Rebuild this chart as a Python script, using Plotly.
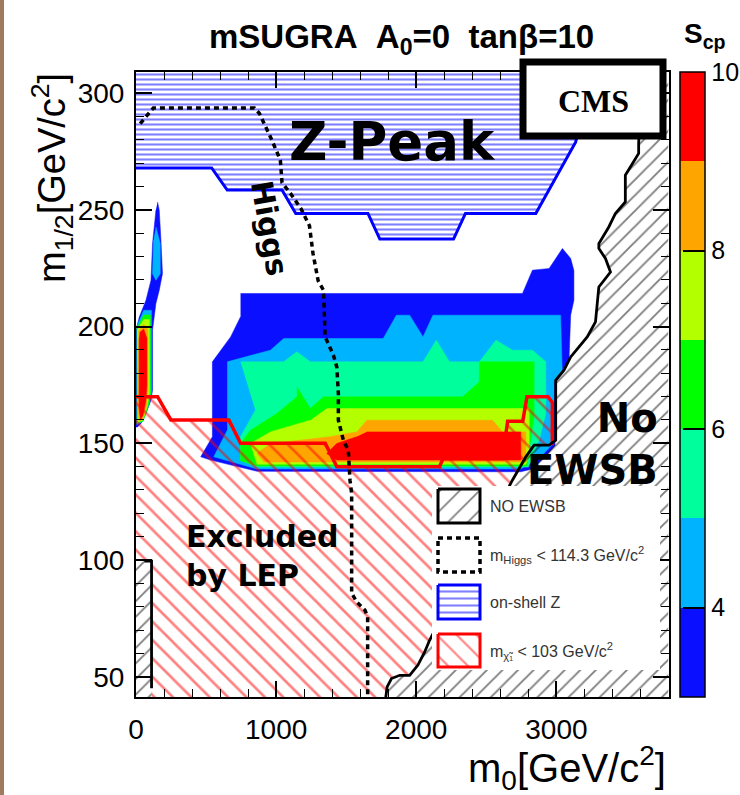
import plotly.graph_objects as go

W, H = 740, 795

# ---------------- S_cp bands, main region (m0, m1/2 in GeV/c^2) ----------------
scp3_m0 = [746, 2758, 2829, 2948, 3043, 3102, 3125, 3125, 3102, 3090, 3050, 2990, 2990, 2930, 2830, 2746, 864, 533, 462, 545, 545, 675, 746]
scp3_m12 = [214.2, 214.2, 224.2, 224.9, 233.5, 229.2, 224, 211.3, 205, 185.6, 182, 176.5, 149, 145, 139, 137.8, 138, 142.8, 144.2, 152.8, 184.9, 195.6, 204.2]
scp4_m0 = [651, 959, 1054, 1764, 1858, 1953, 2048, 2119, 3030, 3042, 2985, 2980, 2900, 2746, 864, 555, 651]
scp4_m12 = [184.9, 189.9, 194.9, 194.9, 204.9, 204.9, 195.6, 204.9, 204.9, 180, 176, 150, 145, 139, 139, 144.2, 155.6]
scp5_m0 = [746, 1054, 1148, 1243, 2048, 2143, 2237, 2450, 2569, 2687, 2829, 2924, 2924, 2880, 2800, 864, 746, 746, 852]
scp5_m12 = [184.9, 184.9, 189.2, 184.9, 184.9, 194.2, 184.9, 184.9, 194.2, 189.9, 189.9, 184.9, 162.8, 152, 139.8, 139.8, 142.8, 152.8, 164.2]
scp6_m0 = [1148, 1243, 1338, 2332, 2450, 2450, 2841, 2841, 2790, 864, 746, 746, 817, 1006, 1148]
scp6_m12 = [174.2, 164.9, 169.9, 169.9, 176.3, 184.9, 184.9, 162, 140.3, 140.3, 142.5, 149.9, 155.6, 162.8, 169.9]
scp7_m0 = [1361, 2806, 2806, 2782, 864, 817, 958, 1077, 1243]
scp7_m12 = [164.9, 164.9, 145, 141, 141, 149.9, 154.9, 157, 159.9]
scp8_m0 = [1645, 2545, 2616, 2782, 2782, 912, 864, 958, 1385, 1574]
scp8_m12 = [159.9, 159.9, 154.9, 154.9, 142, 142, 145.6, 149.9, 152.8, 154.9]
scp9_m0 = [1645, 2746, 2746, 1432, 1361, 1432, 1574]
scp9_m12 = [154.9, 154.9, 142.8, 142.8, 145.6, 149.9, 152.8]

# ---------------- S_cp bands, narrow strip at small m0 ----------------
strip3_m0 = [154, 166, 178, 189, 166, 142, 130, 118, 118, 107, 71, 36, 10, 0, 0, 24, 71, 107, 118, 142]
strip3_m12 = [253.4, 249.9, 237, 222.7, 215.6, 209.9, 204.2, 198.5, 172.8, 168.5, 162.8, 158.5, 157, 157, 198.5, 204.2, 211.3, 219.9, 235.6, 249.9]
strip4a_m0 = [142, 173, 173, 142, 118, 125]
strip4a_m12 = [242.7, 235.6, 222.7, 219.9, 222.7, 237]
strip4b_m0 = [5, 55, 110, 112, 95, 50, 5]
strip4b_m12 = [200, 207, 207, 172, 167, 159.5, 158]
strip6_m0 = [5, 55, 104, 105, 88, 50, 5]
strip6_m12 = [199, 205, 205, 172, 166, 159.5, 158.5]
strip7_m0 = [8, 55, 95, 97, 80, 50, 12]
strip7_m12 = [198.5, 203, 203, 172, 166, 160, 159]
strip8_m0 = [18, 55, 85, 86, 75, 50, 25, 15]
strip8_m12 = [198, 201, 199, 173, 166, 160.5, 159.5, 164]
strip9_m0 = [26, 55, 78, 78, 70, 50, 32, 22, 22]
strip9_m12 = [197.5, 199, 195, 175, 168, 162, 160, 165, 195]

band_colors = ["#0a10ff", "#00b3ff", "#00ff9c", "#00ff00", "#b3ff00", "#ffa500", "#ff0000"]
scp_levels = [3, 4, 5, 6, 7, 8, 9, 10]

# ---------------- excluded / special regions ----------------
zpk_m0 = [0, 0, 540, 651, 1042, 1140, 1655, 1740, 2266, 2351, 2853, 3137, 3250, 3250]
zpk_m12 = [312, 268, 268, 258.5, 258.5, 248.5, 248.5, 237.5, 237.5, 248.5, 248.5, 279, 305, 312]

lep_m0 = [111, 111, 0, 0, 154, 249, 663, 746, 1350, 1433, 2166, 2190, 2616, 2652, 2760, 2790, 2940, 2971, 2971,
          2841, 2782, 2686, 2095, 2060, 2012, 1953, 1882, 1823, 1792, 1780]
lep_m12 = [40, 99.5, 99.5, 170, 170, 160, 160, 150, 150, 140, 140, 143.4, 143.4, 159.5, 159.5, 170, 170, 167.5, 149.2,
           149.2, 144.2, 134.2, 65.6, 60.6, 55, 50.6, 50.6, 49.2, 45.6, 40]

ewsb_m0 = [1780, 1792, 1823, 1882, 1953, 2012, 2060, 2095, 2686, 2782, 2841, 2948, 2995, 2995, 3054, 3102, 3220,
           3279, 3303, 3386, 3350, 3303, 3303, 3374, 3421, 3492, 3492, 3551, 3587, 3587, 3610, 3800, 3800]
ewsb_m12 = [40, 45.6, 49.2, 50.6, 50.6, 55, 60.6, 65.6, 134.2, 144.2, 149.2, 149.2, 151.3, 177, 181.3, 187, 195.6,
            202, 217, 223.4, 229.2, 233.5, 235.6, 242.7, 248.5, 253.4, 264.9, 270.6, 274.2, 278.4, 312, 312, 40]

ewsb_low_m0 = [0, 111, 111, 0]
ewsb_low_m12 = [40, 40, 99.5, 99.5]

higgs_m0 = [30, 124, 845, 881, 969, 1030, 1042, 1103, 1177, 1238, 1263, 1300, 1338, 1350, 1409, 1433, 1444, 1444,
            1480, 1515, 1527, 1539, 1539, 1575, 1634, 1653, 1653]
higgs_m12 = [287, 293.7, 293.7, 291.3, 280, 271.3, 261.7, 257, 250.6, 243.2, 231.4, 219.6, 215.6, 195.6, 187.7,
             182.7, 171.3, 159.9, 151.3, 147, 134.2, 128.5, 85.8, 82, 78.5, 75.7, 40]

x_ticks = [0, 1000, 2000, 3000]
y_ticks = [50, 100, 150, 200, 250, 300]

legend_labels = ["NO EWSB", "m<sub>Higgs</sub> < 114.3 GeV/c<sup>2</sup>", "on-shell Z",
                 "m<sub>χ̃₁</sub> < 103 GeV/c<sup>2</sup>"]

fig = go.Figure()
NOFILL = "rgba(0,0,0,0)"


def solid(xs, ys, color):
    fig.add_trace(go.Scatter(x=xs, y=ys, mode="lines", fill="toself", fillcolor=color,
                             line=dict(width=0.5, color=color), hoverinfo="skip", showlegend=False))


def hatched(xs, ys, shape, size, color, solidity, **kw):
    fig.add_trace(go.Scatter(x=xs, y=ys, mode="none", fill="toself", fillcolor=NOFILL,
                             fillpattern=dict(shape=shape, size=size, solidity=solidity, fgcolor=color,
                                              bgcolor=NOFILL),
                             hoverinfo="skip", showlegend=False, **kw))


def outline(xs, ys, color, width, dash="solid", **kw):
    fig.add_trace(go.Scatter(x=xs, y=ys, mode="lines", line=dict(color=color, width=width, dash=dash),
                             hoverinfo="skip", showlegend=False, **kw))


# contour bands, outer to inner
main_bands = [(scp3_m0, scp3_m12), (scp4_m0, scp4_m12), (scp5_m0, scp5_m12), (scp6_m0, scp6_m12),
              (scp7_m0, scp7_m12), (scp8_m0, scp8_m12), (scp9_m0, scp9_m12)]
for (xs, ys), c in zip(main_bands, band_colors):
    solid(xs, ys, c)

strip_bands = [(strip3_m0, strip3_m12, 0), (strip4a_m0, strip4a_m12, 1), (strip4b_m0, strip4b_m12, 1),
               (strip6_m0, strip6_m12, 3), (strip7_m0, strip7_m12, 4), (strip8_m0, strip8_m12, 5),
               (strip9_m0, strip9_m12, 6)]
for xs, ys, k in strip_bands:
    solid(xs, ys, band_colors[k])

# on-shell Z region
hatched(zpk_m0, zpk_m12, "-", 5, "#0000ff", 0.42)
outline(zpk_m0[1:13], zpk_m12[1:13], "#0000ff", 3)

# LEP chargino exclusion
hatched(lep_m0, lep_m12, "\\", 13, "#ff0000", 0.2)
outline(lep_m0[3:19], lep_m12[3:19], "#ff0000", 3.5)

# no electroweak symmetry breaking
hatched(ewsb_m0, ewsb_m12, "/", 11, "#000000", 0.17)
outline(ewsb_m0[0:31], ewsb_m12[0:31], "#000000", 2.8)
hatched(ewsb_low_m0, ewsb_low_m12, "/", 11, "#000000", 0.17)
outline([ewsb_low_m0[1], ewsb_low_m0[2], 60], [45, ewsb_low_m12[2], ewsb_low_m12[2]], "#000000", 2.8)

# Higgs mass limit
outline(higgs_m0, higgs_m12, "#000000", 3.5, dash="5px,4px")

# colour scale for S_cp
cscale = []
for i, c in enumerate(band_colors):
    cscale += [[i / 7, c], [(i + 1) / 7, c]]
fig.add_trace(go.Scatter(
    x=[None], y=[None], mode="markers", hoverinfo="skip", showlegend=False,
    marker=dict(color=[scp_levels[0]], colorscale=cscale, cmin=scp_levels[0], cmax=scp_levels[-1],
                showscale=True,
                colorbar=dict(x=680 / W, xanchor="left", y=(H - 697) / H, yanchor="bottom",
                              len=625 / H, lenmode="fraction", thickness=25, xpad=0, ypad=0,
                              outlinewidth=1.5, outlinecolor="black",
                              tickvals=[4, 6, 8, 10], ticks="inside", ticklen=22, tickwidth=1.5,
                              tickcolor="black", tickfont=dict(size=25, color="black")))))

# ---------------- legend, drawn in page coordinates ----------------
PG = dict(xaxis="x2", yaxis="y2")
fig.add_trace(go.Scatter(x=[432, 660, 660, 432], y=[486, 486, 670, 670], mode="none", fill="toself",
                         fillcolor="white", hoverinfo="skip", showlegend=False, **PG))
sw_x = [438, 480, 480, 438, 438]
rows = [(489, 523), (538, 572), (585, 619), (634, 667)]
# NO EWSB
hatched(sw_x, [rows[0][0], rows[0][0], rows[0][1], rows[0][1], rows[0][0]], "/", 14, "#000000", 0.12, **PG)
outline(sw_x, [rows[0][0], rows[0][0], rows[0][1], rows[0][1], rows[0][0]], "#000000", 3, **PG)
# Higgs
outline(sw_x, [rows[1][0], rows[1][0], rows[1][1], rows[1][1], rows[1][0]], "#000000", 3.5, dash="5px,4px", **PG)
# on-shell Z
hatched(sw_x, [rows[2][0], rows[2][0], rows[2][1], rows[2][1], rows[2][0]], "-", 7, "#0000ff", 0.3, **PG)
outline(sw_x, [rows[2][0], rows[2][0], rows[2][1], rows[2][1], rows[2][0]], "#0000ff", 3, **PG)
# chargino
hatched(sw_x, [rows[3][0], rows[3][0], rows[3][1], rows[3][1], rows[3][0]], "\\", 14, "#ff0000", 0.14, **PG)
outline(sw_x, [rows[3][0], rows[3][0], rows[3][1], rows[3][1], rows[3][0]], "#ff0000", 3, **PG)

annotations = []
for (top, bot), lab in zip(rows, legend_labels):
    annotations.append(dict(x=488, y=(top + bot) / 2, xref="x2", yref="y2", text=lab, showarrow=False,
                            xanchor="left", yanchor="middle", font=dict(size=16, color="#333333")))

BOLD = "DejaVu Sans"


def note(x, y, text, size, family="Liberation Sans", weight="bold", angle=0, xanchor="center", align="center"):
    annotations.append(dict(x=x, y=y, xref="x2", yref="y2", text=text, showarrow=False, textangle=angle,
                            xanchor=xanchor, yanchor="middle", align=align,
                            font=dict(size=size, family=family, weight=weight, color="black")))


note(401, 39, "mSUGRA\u00a0\u00a0A<sub>0</sub>=0\u00a0\u00a0tanβ=10", 33)
note(705, 35, "S<sub>cp</sub>", 28)
note(392, 141, "Z-Peak", 53, family=BOLD)
note(270, 228, "Higgs", 30, family=BOLD, angle=80)
note(660, 444, "No<br>EWSB", 40, family=BOLD, xanchor="right", align="right")
note(184, 556, "Excluded<br>by LEP", 30, family=BOLD, xanchor="left", align="left")
note(593, 101, "CMS", 32, family="Liberation Serif")
note(52, 178, "m<sub>1/2</sub>[GeV/c<sup>2</sup>]", 38, weight="normal", angle=-90)
note(668, 768, "m<sub>0</sub>[GeV/c<sup>2</sup>]", 40, weight="normal", xanchor="right")

shapes = [
    dict(type="rect", xref="x2", yref="y2", x0=523, x1=663, y0=62, y1=136, line=dict(color="black", width=7),
         fillcolor="white", layer="above"),
    dict(type="rect", xref="x2", yref="y2", x0=0, x1=4, y0=0, y1=H, line=dict(width=0),
         fillcolor="#a07a5c", layer="below"),
]

axis_common = dict(showgrid=False, zeroline=False, showline=True, linecolor="black", linewidth=2,
                   mirror="allticks", ticks="inside", ticklen=16, tickwidth=1.5, tickcolor="black",
                   tickfont=dict(size=28, color="black"))

fig.update_layout(
    width=W, height=H, margin=dict(l=0, r=0, t=0, b=0, autoexpand=False),
    paper_bgcolor="white", plot_bgcolor="rgba(0,0,0,0)",
    font=dict(family="Liberation Sans", color="black"),
    showlegend=False,
    xaxis=dict(domain=[136 / W, 668.5 / W], range=[0, 3800], tickvals=x_ticks, anchor="y",
               minor=dict(dtick=200, tick0=0, ticks="inside", ticklen=8, tickwidth=1.2, tickcolor="black"),
               ticklabelstandoff=6, automargin=False, **axis_common),
    yaxis=dict(domain=[1 - 697 / H, 1 - 72 / H], range=[41.3, 309.1], tickvals=y_ticks, anchor="x",
               minor=dict(dtick=10, tick0=0, ticks="inside", ticklen=8, tickwidth=1.2, tickcolor="black"),
               ticklabelstandoff=4, automargin=False, **axis_common),
    xaxis2=dict(domain=[0, 1], range=[0, W], visible=False, anchor="y2", fixedrange=True),
    yaxis2=dict(domain=[0, 1], range=[H, 0], visible=False, anchor="x2", fixedrange=True),
    annotations=annotations,
    shapes=shapes,
)

fig.write_html("out.html")
